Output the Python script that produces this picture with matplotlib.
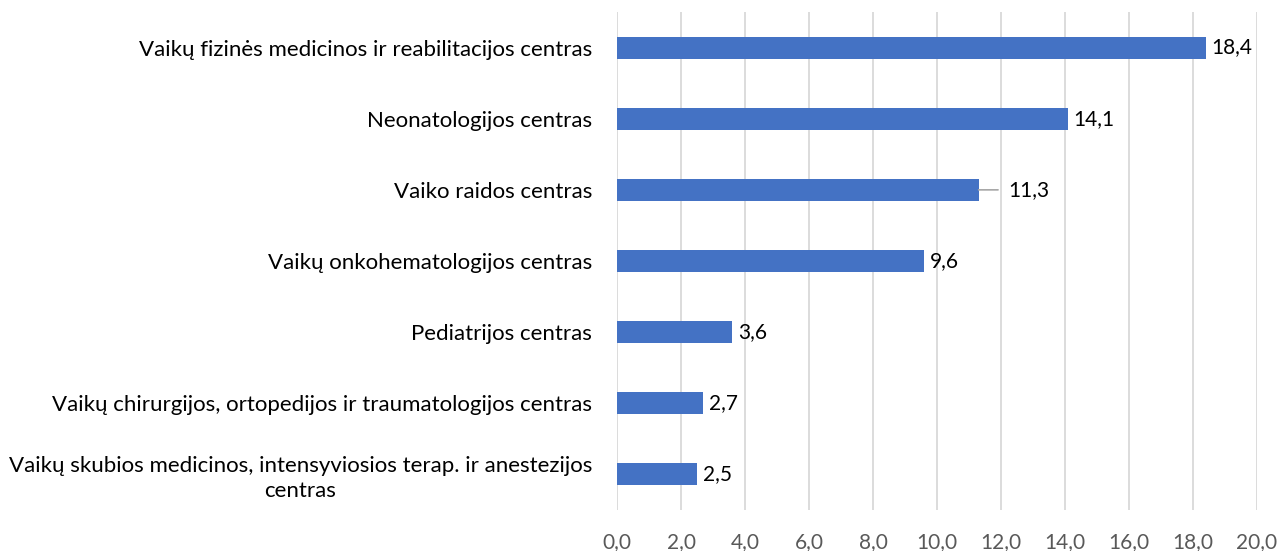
import matplotlib
matplotlib.use("Agg")
import matplotlib.pyplot as plt
from matplotlib.ticker import FuncFormatter

plt.rcParams['font.family'] = ['Lato', 'DejaVu Sans']

categories = [
    'Vaikų fizinės medicinos ir reabilitacijos centras',
    'Neonatologijos centras',
    'Vaiko raidos centras',
    'Vaikų onkohematologijos centras',
    'Pediatrijos centras',
    'Vaikų chirurgijos, ortopedijos ir traumatologijos centras',
    'Vaikų skubios medicinos, intensyviosios terap. ir anestezijos\ncentras',
]
values = [18.4, 14.1, 11.3, 9.6, 3.6, 2.7, 2.5]
x_ticks = [0, 2, 4, 6, 8, 10, 12, 14, 16, 18, 20]

BLUE = '#4472C4'
GRID = '#d9d9d9'


def comma(v, _pos=None):
    return f'{v:.1f}'.replace('.', ',')


def plot():
    fig = plt.figure(figsize=(12.8, 5.51), dpi=100)
    ax = fig.add_axes([617 / 1280, 1 - 510 / 551, 640 / 1280, 498 / 551])

    ypos = list(range(len(categories)))
    ax.barh(ypos, values, height=0.31, color=BLUE, zorder=3)

    for y, v in zip(ypos, values):
        if v == 11.3:
            # label pulled out with a leader line like the original
            ax.annotate(comma(v), xy=(v, y), xytext=(21, 0), textcoords='offset points',
                        ha='left', va='center', fontsize=15, color='black',
                        arrowprops=dict(arrowstyle='-', color='#a6a6a6', lw=1.2,
                                        shrinkA=5, shrinkB=0))
        else:
            ax.annotate(comma(v), xy=(v, y), xytext=(4, 0), textcoords='offset points',
                        ha='left', va='center', fontsize=15, color='black')

    ax.set_xlim(0, 20)
    ax.set_ylim(len(categories) - 0.5, -0.5)
    ax.set_xticks(x_ticks)
    ax.xaxis.set_major_formatter(FuncFormatter(comma))
    ax.set_yticks(ypos)
    ax.set_yticklabels(categories)
    for lab in ax.get_yticklabels():
        lab.set_multialignment('center')
        lab.set_linespacing(1.3)

    ax.tick_params(axis='x', length=0, pad=16, labelsize=15, labelcolor='#595959')
    ax.tick_params(axis='y', length=0, pad=18, labelsize=16, labelcolor='black')

    ax.grid(axis='x', color=GRID, lw=1.3, zorder=0)
    ax.grid(axis='y', visible=False)
    for s in ax.spines.values():
        s.set_visible(False)

    fig.savefig('out.png', dpi=100)


if __name__ == '__main__':
    plot()
